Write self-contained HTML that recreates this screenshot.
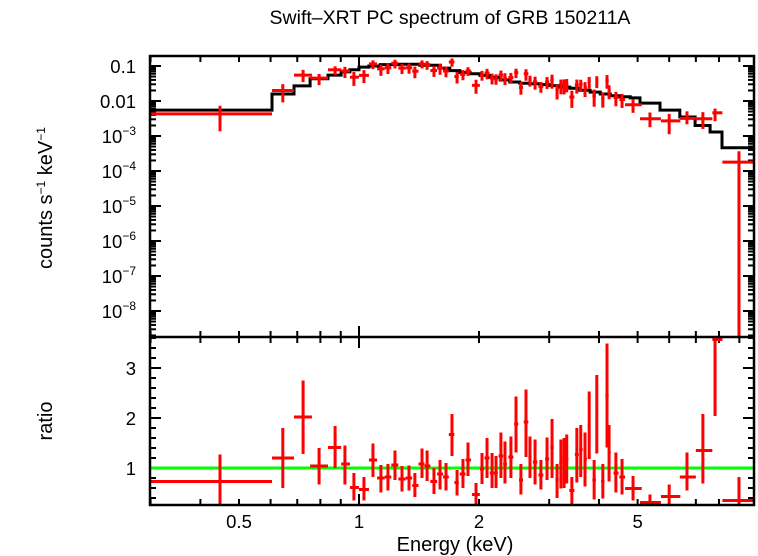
<!DOCTYPE html>
<html><head><meta charset="utf-8"><style>
html,body{margin:0;padding:0;background:#fff;}
svg{display:block;font-family:"Liberation Sans",sans-serif;}
</style></head><body>
<svg id="chart" width="758" height="556" viewBox="0 0 758 556" xmlns="http://www.w3.org/2000/svg">
<defs>
<clipPath id="clipTop"><rect x="150" y="56" width="604" height="281"/></clipPath>
<clipPath id="clipBot"><rect x="150" y="337" width="604" height="168"/></clipPath>
</defs>
<rect x="0" y="0" width="758" height="556" fill="#fff"/>
<text x="450" y="24" font-size="19.5" text-anchor="middle">Swift–XRT PC spectrum of GRB 150211A</text>
<text transform="translate(52,198) rotate(-90)" font-size="20" text-anchor="middle">counts s<tspan font-size="12" dy="-7">−1</tspan><tspan dy="7"> keV</tspan><tspan font-size="12" dy="-7">−1</tspan></text>
<text transform="translate(52,421) rotate(-90)" font-size="20" text-anchor="middle">ratio</text>
<text x="455" y="551" font-size="20" text-anchor="middle">Energy (keV)</text>
<g id="ticks"></g>
<g id="model" clip-path="url(#clipTop)"></g>
<g id="data" clip-path="url(#clipTop)"></g>
<g id="ratio" clip-path="url(#clipBot)"></g>
<g id="frame"></g>
</svg>
<script>
// ---- data ----
const energy   = [0.448,0.644,0.724,0.794,0.871,0.922,0.971,1.029,1.084,1.135,1.182,1.231,1.282,1.335,1.381,1.439,1.482,1.542,1.597,1.653,1.711,1.762,1.823,1.877,1.966,2.035,2.095,2.157,2.207,2.27,2.324,2.405,2.477,2.548,2.624,2.685,2.765,2.86,2.963,3.05,3.14,3.21,3.27,3.32,3.42,3.52,3.60,3.69,3.78,3.89,3.95,4.09,4.19,4.24,4.41,4.57,4.87,5.37,6.0,6.65,7.29,7.82,8.98];
const energyLo = [0.3,0.605,0.687,0.754,0.836,0.902,0.949,1.0,1.059,1.11,1.16,1.205,1.255,1.31,1.36,1.41,1.46,1.51,1.57,1.625,1.68,1.735,1.79,1.85,1.92,2.01,2.065,2.13,2.18,2.24,2.30,2.37,2.45,2.52,2.59,2.66,2.73,2.82,2.93,3.02,3.11,3.18,3.24,3.30,3.37,3.48,3.57,3.66,3.75,3.85,3.93,4.05,4.15,4.21,4.35,4.50,4.65,5.07,5.72,6.38,7.0,7.7,8.16];
const energyHi = [0.605,0.687,0.762,0.836,0.902,0.949,1.0,1.059,1.11,1.16,1.205,1.255,1.31,1.36,1.41,1.46,1.51,1.57,1.625,1.68,1.735,1.78,1.85,1.91,2.01,2.06,2.125,2.18,2.23,2.30,2.35,2.44,2.51,2.58,2.66,2.71,2.80,2.90,3.0,3.08,3.17,3.24,3.30,3.35,3.47,3.56,3.64,3.73,3.81,3.93,3.98,4.13,4.23,4.28,4.48,4.65,5.12,5.72,6.4,7.0,7.7,8.16,9.96];
const rate     = [0.0043,0.020,0.055,0.045,0.078,0.072,0.048,0.054,0.115,0.083,0.089,0.12,0.087,0.089,0.071,0.115,0.11,0.074,0.087,0.072,0.13,0.05,0.058,0.072,0.028,0.055,0.063,0.045,0.043,0.055,0.045,0.047,0.065,0.0245,0.06,0.039,0.035,0.026,0.035,0.04,0.021,0.029,0.030,0.03,0.013,0.029,0.03,0.024,0.036,0.014,0.037,0.012,0.039,0.02,0.0126,0.011,0.0078,0.0031,0.0027,0.0032,0.0031,0.0046,0.00018];
const rateErrUpDex   = [0.23,0.18,0.15,0.12,0.1,0.12,0.15,0.15,0.1,0.12,0.12,0.1,0.12,0.12,0.13,0.1,0.1,0.13,0.12,0.13,0.1,0.13,0.12,0.11,0.16,0.12,0.12,0.13,0.13,0.13,0.14,0.13,0.11,0.15,0.13,0.13,0.15,0.13,0.14,0.15,0.15,0.15,0.14,0.15,0.18,0.15,0.13,0.16,0.13,0.18,0.14,0.17,0.15,0.15,0.16,0.16,0.15,0.18,0.2,0.2,0.19,0.12,0.31];
const rateErrDnDex   = [0.5,0.34,0.2,0.2,0.15,0.2,0.25,0.22,0.15,0.2,0.18,0.15,0.17,0.17,0.2,0.13,0.15,0.18,0.19,0.18,0.13,0.2,0.17,0.14,0.24,0.16,0.18,0.18,0.17,0.19,0.2,0.18,0.16,0.21,0.2,0.18,0.22,0.18,0.2,0.25,0.28,0.27,0.29,0.23,0.31,0.25,0.22,0.27,0.2,0.31,0.2,0.27,0.24,0.25,0.25,0.24,0.23,0.24,0.38,0.17,0.29,0.24,9];
const ratio    = [0.73,1.2,2.02,1.04,1.41,1.08,0.61,0.57,1.16,0.8,0.82,1.06,0.78,0.8,0.65,1.08,1.04,0.73,0.88,0.82,1.67,0.71,0.88,1.16,0.47,0.98,1.2,0.9,0.9,1.24,1.08,1.22,1.88,0.76,1.92,1.22,1.12,0.86,1.18,1.41,0.76,1.1,1.18,1.18,0.55,1.27,1.37,1.18,1.86,0.76,2.08,0.73,2.45,1.31,0.9,0.82,0.59,0.31,0.43,0.82,1.35,3.57,0.35];
const ratioLo  = [0.18,0.6,1.28,0.67,1.0,0.67,0.35,0.35,0.82,0.51,0.55,0.76,0.53,0.55,0.42,0.8,0.74,0.48,0.57,0.55,1.24,0.45,0.6,0.84,0.27,0.68,0.8,0.6,0.6,0.8,0.69,0.8,1.31,0.47,1.22,0.8,0.67,0.57,0.76,0.8,0.4,0.59,0.6,0.69,0.27,0.71,0.82,0.63,1.18,0.37,1.29,0.39,1.41,0.73,0.51,0.47,0.35,0.18,0.18,0.55,0.69,2.04,0.0];
const ratioHi  = [1.27,1.8,2.75,1.4,1.84,1.45,0.9,0.82,1.49,1.06,1.08,1.35,1.04,1.05,0.9,1.39,1.35,1.0,1.16,1.1,2.08,0.96,1.18,1.51,0.7,1.3,1.6,1.3,1.24,1.71,1.53,1.63,2.43,1.08,2.57,1.63,1.57,1.16,1.61,1.98,1.08,1.57,1.6,1.67,0.82,1.8,1.86,1.71,2.53,1.16,2.86,1.08,3.49,1.86,1.31,1.18,0.84,0.47,0.67,1.31,2.08,4.5,0.82];
const modelEdges = [0.3,0.605,0.687,0.754,0.836,0.902,0.949,1.0,1.059,1.13,1.27,1.42,1.6,1.69,1.79,1.90,2.01,2.13,2.26,2.39,2.53,2.68,2.84,3.01,3.19,3.38,3.58,3.8,4.03,4.27,4.52,4.79,5.07,5.69,6.38,6.97,7.6,8.14,9.9];
const modelValues = [0.0055,0.0158,0.027,0.043,0.055,0.068,0.078,0.093,0.10,0.11,0.112,0.105,0.087,0.074,0.065,0.060,0.054,0.048,0.040,0.035,0.032,0.031,0.0295,0.0275,0.025,0.023,0.0204,0.018,0.0158,0.0141,0.0132,0.0123,0.0087,0.0055,0.0035,0.002,0.0013,0.00046];
const xTickLabels = [0.5,1,2,5];
const yTopLabels = ["0.1","0.01","10|−3","10|−4","10|−5","10|−6","10|−7","10|−8"];
const yRatioLabels = [1,2,3];

// ---- axes ----
const L=150,R=754,T=56,M=337,B=505;
const xs = e => 359 + 398.6*Math.log10(e);
const ys = v => 66 - 35*(Math.log10(v)+1);
const yr = r => 468 - 50*(r-1);
const NS="http://www.w3.org/2000/svg";
function mk(tag, attrs, parent){const el=document.createElementNS(NS,tag);for(const k in attrs)el.setAttribute(k,attrs[k]);parent.appendChild(el);return el;}
const ticks=document.getElementById('ticks');
function ln(x1,y1,x2,y2,parent,color,w){return mk('line',{x1:x1,y1:y1,x2:x2,y2:y2,stroke:color||'#000','stroke-width':w||2},parent);}

// x ticks
const xMinor=[0.3,0.4,0.5,0.6,0.7,0.8,0.9,2,3,4,5,6,7,8,9];
xMinor.forEach(e=>{const x=xs(e);
  ln(x,T,x,T+6,ticks); ln(x,M-6,x,M+6,ticks); ln(x,B-6,x,B,ticks);});
{const x=xs(1); ln(x,T,x,T+11,ticks); ln(x,M-11,x,M+11,ticks); ln(x,B-11,x,B,ticks);}
xTickLabels.forEach(e=>{
  const t=mk('text',{x:xs(e),y:528,'font-size':18.5,'text-anchor':'middle'},ticks);
  
  
  t.textContent=String(e);});

// top y ticks
for(let d=-8;d<=-1;d++){
  const y=ys(Math.pow(10,d)); ln(L,y,L+11,y,ticks); ln(R-11,y,R,y,ticks);
  for(let m=2;m<=9;m++){const yy=ys(m*Math.pow(10,d)); if(yy>T&&yy<M){ln(L,yy,L+6,yy,ticks);ln(R-6,yy,R,yy,ticks);}}
}
for(let m=2;m<=9;m++){const yy=ys(m*1e-9); if(yy>T&&yy<M){ln(L,yy,L+6,yy,ticks);ln(R-6,yy,R,yy,ticks);}}
yTopLabels.forEach((s,i)=>{
  const y=ys(Math.pow(10,-1-i))+7;
  const t=mk('text',{x:136,y:y,'font-size':18.5,'text-anchor':'end'},ticks);
  
  
  const p=s.split('|');
  if(p.length===1){t.textContent=s;}
  else{const a=mk('tspan',{},t);a.textContent=p[0];const b=mk('tspan',{'font-size':12,dy:-8},t);b.textContent=p[1];}
});
// ratio y ticks
for(let r=0.4;r<3.62;r+=0.2){const y=yr(r);const major=Math.abs(r-Math.round(r))<0.01;
  ln(L,y,L+(major?11:6),y,ticks); ln(R-(major?11:6),y,R,y,ticks);}
yRatioLabels.forEach(r=>{
  const t=mk('text',{x:136,y:yr(r)+7,'font-size':18.5,'text-anchor':'end'},ticks);
  
  
  t.textContent=String(r);});

// model step line
let d='';
modelValues.forEach((v,i)=>{const x1=xs(modelEdges[i]),x2=xs(modelEdges[i+1]),y=ys(v);
  d+=(i===0?'M':'L')+x1.toFixed(1)+','+y.toFixed(1)+'L'+x2.toFixed(1)+','+y.toFixed(1);});
const mp=mk('path',{d:d,fill:'none',stroke:'#000','stroke-width':3},document.getElementById('model'));



// data crosses
const dg=document.getElementById('data'), rg=document.getElementById('ratio');
energy.forEach((e,i)=>{
  const x=xs(e), y=ys(rate[i]);
  const g=mk('g',{},dg);
  
  
  ln(xs(energyLo[i]),y,xs(energyHi[i]),y,g,'#f00',3);
  ln(x,ys(rate[i]*Math.pow(10,rateErrUpDex[i])),x,Math.min(ys(rate[i]/Math.pow(10,rateErrDnDex[i])),400),g,'#f00',3);
});
// ratio unity line
const ul=ln(L,yr(1),R,yr(1),rg,'#0f0',3);


energy.forEach((e,i)=>{
  const x=xs(e), y=yr(ratio[i]);
  const g=mk('g',{},rg);
  
  
  ln(xs(energyLo[i]),y,xs(energyHi[i]),y,g,'#f00',3);
  ln(x,yr(ratioHi[i]),x,yr(ratioLo[i]),g,'#f00',3);
});

// frame
const fr=document.getElementById('frame');
mk('rect',{x:L,y:T,width:R-L,height:B-T,fill:'none',stroke:'#000','stroke-width':2.5},fr);
ln(L,M,R,M,fr,'#000',2.5);
</script>
</body></html>
